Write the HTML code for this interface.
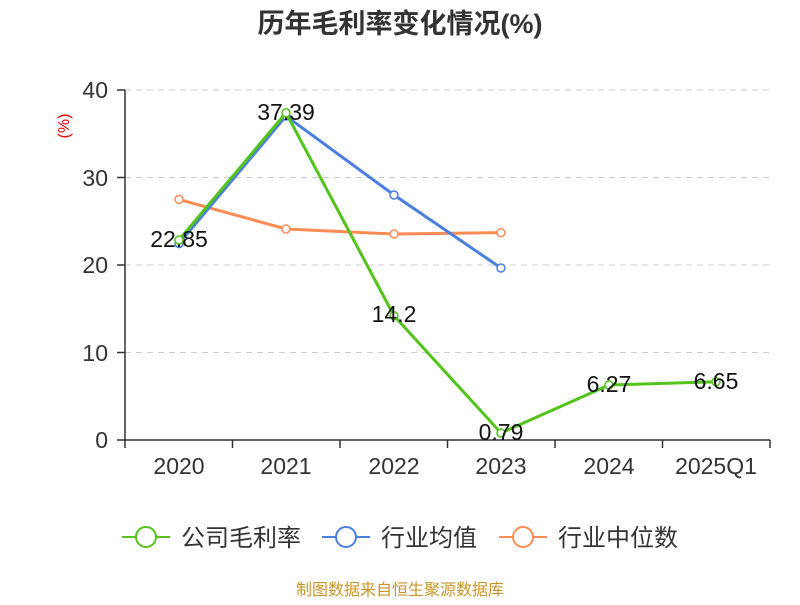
<!DOCTYPE html>
<html><head><meta charset="utf-8"><style>body{margin:0;background:#fff}</style></head><body>
<svg width="800" height="600" xmlns="http://www.w3.org/2000/svg" font-family="Liberation Sans, Noto Sans CJK SC, sans-serif">
<text x="400" y="33" text-anchor="middle" font-size="27" font-weight="bold" fill="#333">历年毛利率变化情况(%)</text>
<text x="69" y="126" fill="#e00" font-size="16" transform="rotate(-90 69 126)" text-anchor="middle">(%)</text>
<g stroke="#ccc" stroke-dasharray="6,5" stroke-width="1">
<line x1="125" y1="90" x2="770" y2="90"/><line x1="125" y1="177.5" x2="770" y2="177.5"/><line x1="125" y1="265" x2="770" y2="265"/><line x1="125" y1="352.5" x2="770" y2="352.5"/></g>
<g stroke="#333" stroke-width="1.5">
<line x1="125" y1="90" x2="125" y2="440"/><line x1="125" y1="440" x2="770" y2="440"/>
<line x1="117" y1="90" x2="125" y2="90"/><line x1="117" y1="177.5" x2="125" y2="177.5"/><line x1="117" y1="265" x2="125" y2="265"/><line x1="117" y1="352.5" x2="125" y2="352.5"/><line x1="117" y1="440" x2="125" y2="440"/>
<line x1="125" y1="440" x2="125" y2="448"/><line x1="232.5" y1="440" x2="232.5" y2="448"/><line x1="340" y1="440" x2="340" y2="448"/><line x1="447.5" y1="440" x2="447.5" y2="448"/><line x1="555" y1="440" x2="555" y2="448"/><line x1="662.5" y1="440" x2="662.5" y2="448"/><line x1="770" y1="440" x2="770" y2="448"/></g>
<g font-size="23" fill="#333" text-anchor="end">
<text x="108" y="98">40</text><text x="108" y="186">30</text><text x="108" y="273">20</text><text x="108" y="361">10</text><text x="108" y="448">0</text></g>
<g font-size="23" fill="#333" text-anchor="middle">
<text x="179" y="474">2020</text><text x="286" y="474">2021</text><text x="394" y="474">2022</text><text x="501" y="474">2023</text><text x="609" y="474">2024</text><text x="716" y="474">2025Q1</text></g>
<g fill="#fff" stroke-width="1.5">
<polyline fill="none" stroke="#ff8c55" stroke-width="3" points="179,199.4 286,229 394,234 501,232.6"/>
<circle cx="179" cy="199.4" r="4" stroke="#ff8c55"/><circle cx="286" cy="229" r="4" stroke="#ff8c55"/><circle cx="394" cy="234" r="4" stroke="#ff8c55"/><circle cx="501" cy="232.6" r="4" stroke="#ff8c55"/>
<polyline fill="none" stroke="#4a7fe0" stroke-width="3" points="179,243.5 286,116 394,195 501,268"/>
<circle cx="179" cy="243.5" r="4" stroke="#4a7fe0"/><circle cx="286" cy="116" r="4" stroke="#4a7fe0"/><circle cx="394" cy="195" r="4" stroke="#4a7fe0"/><circle cx="501" cy="268" r="4" stroke="#4a7fe0"/>
<polyline fill="none" stroke="#52c41a" stroke-width="3" points="179,240 286,112.8 394,315.8 501,433 609,385 716,381.8"/>
<circle cx="179" cy="240" r="4" stroke="#52c41a"/><circle cx="286" cy="112.8" r="4" stroke="#52c41a"/><circle cx="394" cy="315.8" r="4" stroke="#52c41a"/><circle cx="501" cy="433" r="4" stroke="#52c41a"/><circle cx="609" cy="385" r="4" stroke="#52c41a"/><circle cx="716" cy="381.8" r="4" stroke="#52c41a"/>
</g>
<g font-size="23" fill="#111" text-anchor="middle">
<text x="179" y="247">22.85</text><text x="286" y="120">37.39</text><text x="394" y="322">14.2</text><text x="501" y="440">0.79</text><text x="609" y="392">6.27</text><text x="716" y="389">6.65</text></g>
<g stroke-width="2" fill="#fff">
<line x1="122" y1="537" x2="170" y2="537" stroke="#52c41a"/><circle cx="146" cy="537" r="10" stroke="#52c41a"/>
<line x1="322" y1="537" x2="370" y2="537" stroke="#4a7fe0"/><circle cx="346" cy="537" r="10" stroke="#4a7fe0"/>
<line x1="499" y1="537" x2="547" y2="537" stroke="#ff8c55"/><circle cx="523" cy="537" r="10" stroke="#ff8c55"/></g>
<g font-size="24" fill="#333">
<text x="181" y="546">公司毛利率</text><text x="381" y="546">行业均值</text><text x="558" y="546">行业中位数</text></g>
<text x="400" y="595" text-anchor="middle" font-size="16" fill="#c8962a">制图数据来自恒生聚源数据库</text>
</svg>
</body></html>
